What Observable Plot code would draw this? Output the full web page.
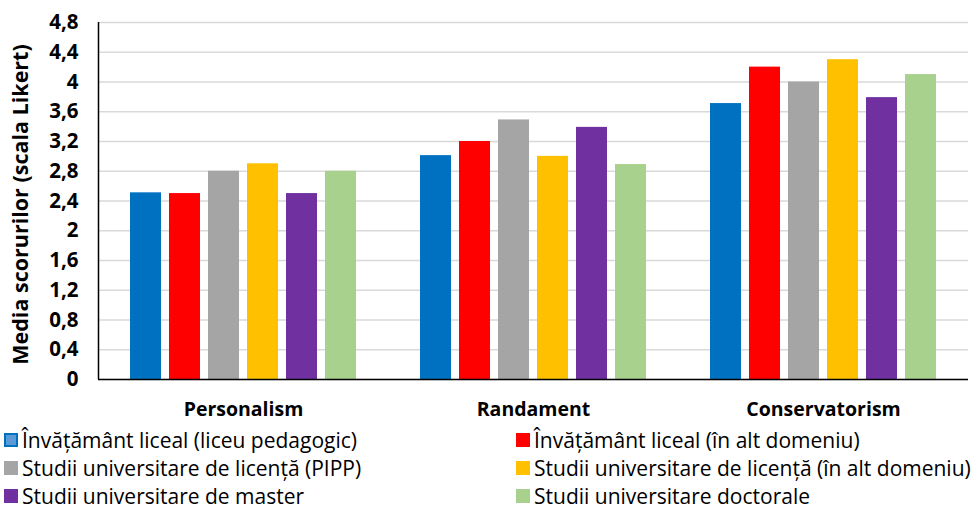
<!DOCTYPE html>
<html>
<head>
<meta charset="utf-8">
<script src="https://cdn.jsdelivr.net/npm/d3@7"></script>
<script src="https://cdn.jsdelivr.net/npm/@observablehq/plot@0.6"></script>
<style>
  html, body { margin: 0; padding: 0; background: #fff; }
  body { width: 977px; height: 512px; overflow: hidden; font-family: "Open Sans", sans-serif; }
  #chart { position: relative; }
  #legend { position: relative; height: 86px; }
  .li { position: absolute; display: flex; align-items: center; font-size: 21px; line-height: 24px; color: #000; white-space: nowrap; }
  .sw { width: 14px; height: 14px; margin-right: 4px; box-sizing: border-box; }
</style>
</head>
<body>
<div id="chart"></div>
<div id="legend"></div>
<script>
const groups = ["Personalism", "Randament", "Conservatorism"];
const series = [
  "Învățământ liceal (liceu pedagogic)",
  "Învățământ liceal (în alt domeniu)",
  "Studii universitare de licență (PIPP)",
  "Studii universitare de licență (în alt domeniu)",
  "Studii universitare de master",
  "Studii universitare doctorale"
];
const colors = ["#0070C0", "#FF0000", "#A5A5A5", "#FFC000", "#7030A0", "#A9D18E"];
const personalism = [2.51, 2.5, 2.8, 2.9, 2.5, 2.8];
const randament = [3.01, 3.2, 3.49, 3.0, 3.39, 2.89];
const conservatorism = [3.71, 4.2, 4.0, 4.3, 3.79, 4.1];
const yTicks = [0, 0.4, 0.8, 1.2, 1.6, 2, 2.4, 2.8, 3.2, 3.6, 4, 4.4, 4.8];
const yTitle = "Media scorurilor (scala Likert)";

const valuesByGroup = [personalism, randament, conservatorism];
const data = [];
groups.forEach((g, gi) => series.forEach((s, si) => data.push({group: g, series: s, value: valuesByGroup[gi][si]})));

const fmt = d => String(d).replace(".", ",");

const chart = Plot.plot({
  width: 977,
  height: 424,
  marginLeft: 98,
  marginRight: 9,
  marginTop: 22,
  marginBottom: 45,
  style: {fontFamily: "'Open Sans', sans-serif", background: "#fff"},
  fx: {domain: groups, padding: 0},
  x: {domain: series, axis: null, paddingInner: 0.2, paddingOuter: 0.8},
  y: {domain: [0, 4.8]},
  color: {domain: series, range: colors},
  marks: [
    Plot.gridY(yTicks, {stroke: "#d9d9d9", strokeOpacity: 1, strokeWidth: 1.5}),
    Plot.barY(data, {fx: "group", x: "series", y: "value", fill: "series"}),
    Plot.ruleY([0], {stroke: "#000", strokeWidth: 1.5}),
    Plot.axisY(yTicks, {tickFormat: fmt, tickSize: 0, tickPadding: 20, fontSize: 20.5, fontWeight: "bold", fill: "#000", label: null}),
    Plot.axisFx({anchor: "bottom", tickSize: 0, tickPadding: 23, fontSize: 19.5, fontWeight: "bold", fill: "#000", label: null})
  ]
});
document.getElementById("chart").appendChild(chart);

const svg = d3.select(chart);
// left axis line
svg.append("line")
  .attr("x1", 98.5).attr("x2", 98.5).attr("y1", 22).attr("y2", 379)
  .attr("stroke", "#000").attr("stroke-width", 1.5);

svg.append("text")
  .attr("transform", `translate(22, ${(22 + 379) / 2 + 4}) rotate(-90)`)
  .attr("text-anchor", "middle")
  .attr("dominant-baseline", "middle")
  .attr("font-size", 21.5).attr("font-weight", "bold")
  .attr("font-family", "'Open Sans', sans-serif")
  .attr("fill", "#000")
  .text(yTitle);

// legend
const legend = document.getElementById("legend");
series.forEach((s, i) => {
  const col = i % 2, row = Math.floor(i / 2);
  const el = document.createElement("div");
  el.className = "li";
  el.style.left = (col === 0 ? 4 : 516) + "px";
  el.style.top = (4 + row * 28) + "px";
  const sw = document.createElement("div");
  sw.className = "sw";
  sw.style.background = i === 0 ? "#5B9BD5" : colors[i];
  if (i === 0) sw.style.border = "2px solid #0070C0";
  el.appendChild(sw);
  const t = document.createElement("span");
  t.textContent = s;
  el.appendChild(t);
  legend.appendChild(el);
});
</script>
</body>
</html>
